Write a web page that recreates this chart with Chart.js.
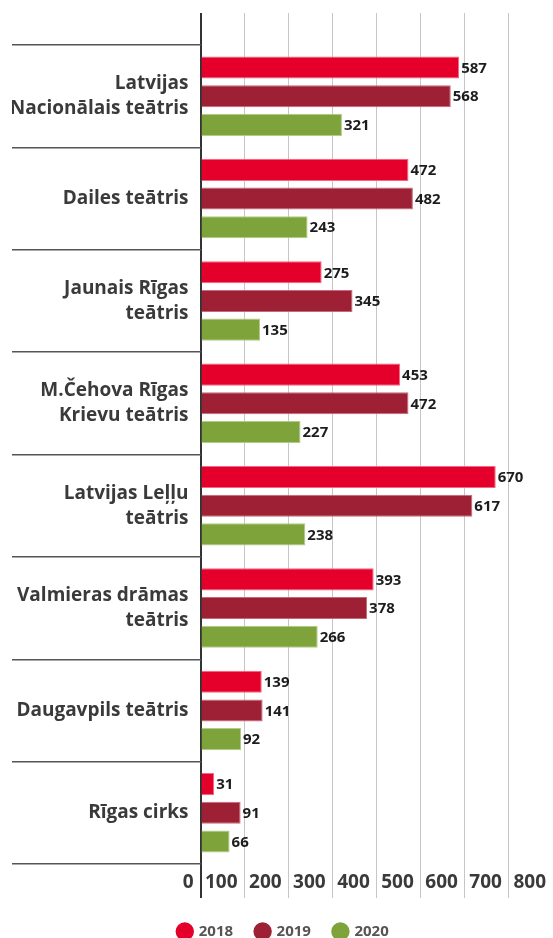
<!DOCTYPE html>
<html>
<head>
<meta charset="utf-8">
<script src="https://cdn.jsdelivr.net/npm/chart.js@4/dist/chart.umd.min.js"></script>
<style>
  html, body { margin: 0; padding: 0; background: #fff; }
  #wrap { width: 553px; height: 938px; }
</style>
</head>
<body>
<div id="wrap"><canvas id="chart" width="553" height="938"></canvas></div>
<script>
const theatres = [
  ['Latvijas', 'Nacionālais teātris'],
  'Dailes teātris',
  ['Jaunais Rīgas', 'teātris'],
  ['M.Čehova Rīgas', 'Krievu teātris'],
  ['Latvijas Leļļu', 'teātris'],
  ['Valmieras drāmas', 'teātris'],
  'Daugavpils teātris',
  'Rīgas cirks',
];
const years = ['2018', '2019', '2020'];
const values2018 = [587, 472, 275, 453, 670, 393, 139, 31];
const values2019 = [568, 482, 345, 472, 617, 378, 141, 91];
const values2020 = [321, 243, 135, 227, 238, 266, 92, 66];
const axisMax = 800;
const axisStep = 100;

Chart.defaults.font.family = "'Open Sans', sans-serif";

// draws the number right of each bar
const valueLabels = {
  id: 'valueLabels',
  afterDatasetsDraw(chart) {
    const ctx = chart.ctx;
    ctx.save();
    ctx.font = "bold 15px 'Open Sans'";
    ctx.fillStyle = '#1c1c1c';
    ctx.textAlign = 'left';
    ctx.textBaseline = 'middle';
    chart.data.datasets.forEach((ds, i) => {
      chart.getDatasetMeta(i).data.forEach((bar, j) => {
        ctx.fillText(ds.data[j], bar.x + 2, bar.y + 1);
      });
    });
    ctx.restore();
  }
};

const gridColor = c => c.tick && c.tick.value === 0 ? '#333' : '#c6c6c6';
const gridWidth = c => c.tick && c.tick.value === 0 ? 2 : 1;

new Chart(document.getElementById('chart'), {
  type: 'bar',
  data: {
    labels: theatres,
    datasets: [
      { label: years[0], data: values2018, backgroundColor: '#e4002b', borderColor: '#f2687e', borderWidth: 1 },
      { label: years[1], data: values2019, backgroundColor: '#9d2035', borderColor: '#c56a78', borderWidth: 1 },
      { label: years[2], data: values2020, backgroundColor: '#7ea33a', borderColor: '#b2cb86', borderWidth: 1 },
    ]
  },
  options: {
    indexAxis: 'y',
    responsive: false,
    animation: false,
    categoryPercentage: 0.84,
    barPercentage: 0.77,
    layout: { padding: { top: 13, left: 12, right: -2, bottom: -11 } },
    scales: {
      x: {
        position: 'bottom',
        min: 0,
        max: axisMax,
        border: { display: false },
        grid: { color: gridColor, lineWidth: gridWidth, tickLength: 34 },
        ticks: {
          stepSize: axisStep,
          autoSkip: false,
          maxRotation: 0,
          align: 'end',
          labelOffset: -7,
          padding: -27,
          color: '#3a3a3a',
          font: { size: 19, weight: 'bold' }
        },
        afterFit(s) { s.height = 37; }
      },
      x2: {
        position: 'top',
        min: 0,
        max: axisMax,
        border: { display: false },
        grid: { color: gridColor, lineWidth: gridWidth, tickLength: 32 },
        ticks: { stepSize: axisStep, display: false },
        afterFit(s) { s.height = 32; }
      },
      y: {
        border: { display: false },
        grid: { drawOnChartArea: false, tickLength: 188.5, color: '#555', lineWidth: 1.5 },
        ticks: {
          padding: -176.5,
          color: '#3a3a3a',
          font: { size: 19, weight: 'bold', lineHeight: 1.32 }
        },
        afterFit(s) { s.width = 188.5; }
      }
    },
    plugins: {
      tooltip: { enabled: false },
      legend: {
        position: 'bottom',
        labels: {
          usePointStyle: true,
          pointStyle: 'circle',
          boxWidth: 13,
          boxHeight: 13,
          padding: 23,
          color: '#555',
          font: { size: 15, weight: 'bold' },
          generateLabels(chart) {
            return Chart.defaults.plugins.legend.labels.generateLabels(chart)
              .map(l => Object.assign(l, { strokeStyle: l.fillStyle, lineWidth: 0 }));
          }
        }
      }
    }
  },
  plugins: [valueLabels]
});
</script>
</body>
</html>
